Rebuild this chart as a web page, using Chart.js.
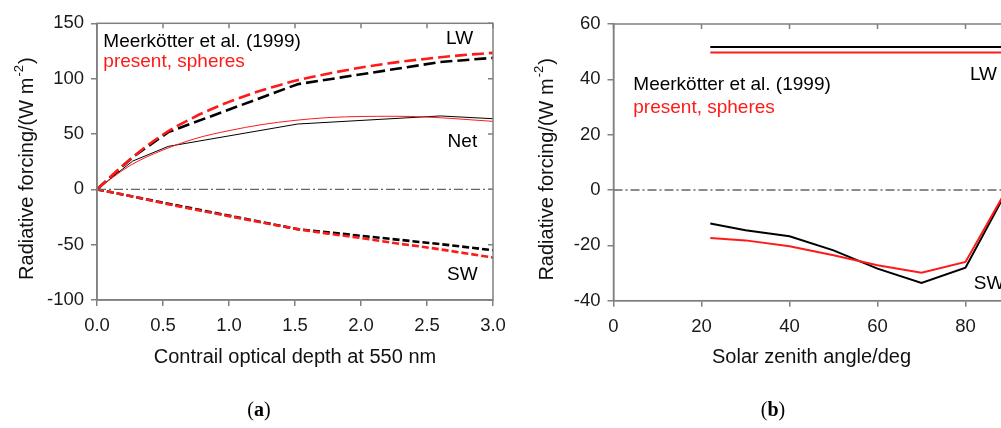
<!DOCTYPE html>
<html>
<head>
<meta charset="utf-8">
<script src="https://cdn.jsdelivr.net/npm/chart.js@4.4.1/dist/chart.umd.min.js"></script>
<style>
  html, body { margin: 0; padding: 0; background: #fff; overflow: hidden; }
  #wrap { position: relative; width: 1001px; height: 428px; overflow: hidden; }
  canvas { position: absolute; top: 0; }
  #chartA { left: 0; }
  #chartB { left: 520px; }
</style>
</head>
<body>
<div id="wrap">
  <canvas id="chartA" width="520" height="428"></canvas>
  <canvas id="chartB" width="520" height="428"></canvas>
</div>
<script>
// Panel (a): forcing vs contrail optical depth
const tauMeer = [0, 0.27, 0.54, 1.52, 2.6, 3.0];
const lwMeer = [0, 29, 51.7, 95, 115, 118.8];
const netMeer = [0, 25.5, 38.8, 59, 66.3, 63.8];
const swMeer = [0, -6.5, -13, -36, -49.5, -55];

const tauPres = [0, 0.25, 0.5, 0.75, 1.0, 1.25, 1.5, 1.75, 2.0, 2.25, 2.5, 2.75, 3.0];
const lwPres = [0, 27, 49.5, 66, 79, 89.5, 98, 104.5, 110, 114.5, 118, 121, 123.3];
const netPres = [0, 21.5, 35.5, 46, 53, 58.5, 62.3, 64.8, 65.8, 66, 65.3, 63.5, 61.4];
const swPres = [0, -6, -12.5, -18.5, -24.2, -30, -35.5, -40, -44, -48.5, -52.5, -57, -61.6];

const tauRange = [0, 3];
const forcingRangeA = [-100, 150];

// Panel (b): forcing vs solar zenith angle
const sza = [22, 30, 40, 50, 60, 70, 80, 90];
const lwMeerB = [51.7, 51.7, 51.7, 51.7, 51.7, 51.7, 51.7, 51.7];
const lwPresB = [49.7, 49.7, 49.7, 49.7, 49.7, 49.7, 49.7, 49.7];
const swMeerB = [-12.1, -14.5, -16.7, -21.8, -28.4, -33.6, -28.1, 1.5];
const swPresB = [-17.3, -18.2, -20.3, -23.6, -27.2, -29.9, -26.0, 2];

const szaRange = [0, 90];
const forcingRangeB = [-40, 60];

const RED = "#ff1a1a";
const GRAY = "#808080";
const FONT = '"Liberation Sans", Arial, Helvetica, sans-serif';

const pts = (xs, ys) => xs.map((x, i) => ({ x: x, y: ys[i] }));

function line(data, color, width, dash, smooth) {
    return {
        data: data,
        borderColor: color,
        borderWidth: width,
        borderDash: dash || [],
        pointRadius: 0,
        fill: false,
        tension: 0,
        cubicInterpolationMode: smooth ? "monotone" : "default",
    };
}

function zeroLine(range) {
    return line(range.map((x) => ({ x: x, y: 0 })), "#666", 1.3, [9, 3, 2, 3]);
}

// frame, inward ticks on top/right, y title with superscript, text labels
function decorPlugin(labels, panelTag, yTitleX) {
    return {
        id: "decor",
        afterDraw(chart) {
            const { ctx, chartArea: a, scales } = chart;
            const x = scales.x, y = scales.y;
            ctx.save();
            ctx.strokeStyle = GRAY;
            ctx.lineWidth = 1.5;
            ctx.strokeRect(a.left, a.top, a.right - a.left, a.bottom - a.top);
            ctx.beginPath();
            x.ticks.forEach((t) => {
                const px = x.getPixelForValue(t.value);
                ctx.moveTo(px, a.top);
                ctx.lineTo(px, a.top + 5);
            });
            y.ticks.forEach((t) => {
                const py = y.getPixelForValue(t.value);
                ctx.moveTo(a.right, py);
                ctx.lineTo(a.right - 5, py);
            });
            ctx.stroke();

            // y axis title
            const big = "20px " + FONT, small = "13px " + FONT;
            const main = "Radiative forcing/(W m", sup = "-2", end = ")";
            ctx.translate(yTitleX, (a.top + a.bottom) / 2 + 7);
            ctx.rotate(-Math.PI / 2);
            ctx.fillStyle = "#111";
            ctx.textBaseline = "alphabetic";
            ctx.textAlign = "left";
            ctx.font = big;
            const w1 = ctx.measureText(main).width, w3 = ctx.measureText(end).width;
            ctx.font = small;
            const w2 = ctx.measureText(sup).width;
            const x0 = -(w1 + w2 + w3 + 2) / 2;
            ctx.font = big;
            ctx.fillText(main, x0, 0);
            ctx.font = small;
            ctx.fillText(sup, x0 + w1 + 1, -10);
            ctx.font = big;
            ctx.fillText(end, x0 + w1 + w2 + 2, 0);
            ctx.restore();

            ctx.save();
            ctx.font = "19px " + FONT;
            ctx.textAlign = "left";
            ctx.textBaseline = "alphabetic";
            labels.forEach((l) => {
                ctx.fillStyle = l.color;
                ctx.fillText(l.text, x.getPixelForValue(l.x), y.getPixelForValue(l.y));
            });

            // panel tag "(a)" / "(b)"
            const serif = '"Liberation Serif", "DejaVu Serif", serif';
            ctx.fillStyle = "#000";
            ctx.textBaseline = "middle";
            const reg = "20px " + serif, bold = "bold 20px " + serif;
            ctx.font = reg;
            const pw = ctx.measureText("(").width;
            ctx.font = bold;
            const lw = ctx.measureText(panelTag.letter).width;
            let tx = panelTag.cx - (pw * 2 + lw) / 2;
            ctx.font = reg;
            ctx.fillText("(", tx, panelTag.cy);
            ctx.font = bold;
            ctx.fillText(panelTag.letter, tx + pw, panelTag.cy);
            ctx.font = reg;
            ctx.fillText(")", tx + pw + lw, panelTag.cy);
            ctx.restore();
        },
    };
}

function axisOpts(range, step, fitSize, isX, title, fmt) {
    const o = {
        type: "linear",
        min: range[0],
        max: range[1],
        border: { display: true, color: GRAY, width: 1.5 },
        grid: { drawOnChartArea: false, drawTicks: true, tickLength: 6, color: GRAY, lineWidth: 1.5 },
        ticks: {
            stepSize: step,
            includeBounds: false,
            color: "#1a1a1a",
            font: { family: FONT, size: 18.5 },
            padding: isX ? 9 : 7,
            maxRotation: 0,
            callback: fmt,
        },
        afterFit: isX ? (s) => { s.height = fitSize; } : (s) => { s.width = fitSize; },
    };
    if (title) {
        o.title = {
            display: true,
            text: title,
            color: "#111",
            font: { family: FONT, size: 20 },
            padding: { top: 0, bottom: 59 },
        };
    }
    return o;
}

const labelsA = [
    { text: "Meerkötter et al. (1999)", color: "#000", x: 0.048, y: 128.2 },
    { text: "present, spheres", color: RED, x: 0.048, y: 110.1 },
    { text: "LW", color: "#000", x: 2.644, y: 131.5 },
    { text: "Net", color: "#000", x: 2.656, y: 38.2 },
    { text: "SW", color: "#000", x: 2.652, y: -82.1 },
];

const labelsB = [
    { text: "Meerkötter et al. (1999)", color: "#000", x: 4.5, y: 36.0 },
    { text: "present, spheres", color: RED, x: 4.5, y: 27.8 },
    { text: "LW", color: "#000", x: 81.0, y: 39.9 },
    { text: "SW", color: "#000", x: 81.9, y: -35.6 },
];

new Chart(document.getElementById("chartA"), {
    type: "line",
    data: {
        datasets: [
            zeroLine(tauRange),
            line(pts(tauPres, lwPres), RED, 2.6, [12, 5], true),
            line(pts(tauPres, swPres), RED, 2.6, [7, 3], true),
            line(pts(tauPres, netPres), RED, 1, [], true),
            line(pts(tauMeer, lwMeer), "#000", 2.6, [12, 5]),
            line(pts(tauMeer, swMeer), "#000", 2.6, [7, 3]),
            line(pts(tauMeer, netMeer), "#000", 1),
        ],
    },
    options: {
        responsive: false,
        animation: false,
        devicePixelRatio: 1,
        layout: { padding: { top: 23.3, right: 27, bottom: 0, left: 0 } },
        plugins: { legend: { display: false }, tooltip: { enabled: false } },
        scales: {
            x: axisOpts(tauRange, 0.5, 128, true, "Contrail optical depth at 550 nm", (v) => v.toFixed(1)),
            y: axisOpts(forcingRangeA, 50, 97, false, null, (v) => v),
        },
    },
    plugins: [decorPlugin(labelsA, { letter: "a", cx: 259, cy: 411 }, 33)],
});

new Chart(document.getElementById("chartB"), {
    type: "line",
    data: {
        datasets: [
            zeroLine(szaRange),
            line(pts(sza, lwMeerB), "#000", 2),
            line(pts(sza, lwPresB), RED, 2),
            line(pts(sza, swPresB), RED, 2),
            line(pts(sza, swMeerB), "#000", 2),
        ],
    },
    options: {
        responsive: false,
        animation: false,
        devicePixelRatio: 1,
        layout: { padding: { top: 24, right: 30.5, bottom: 0, left: 0 } },
        plugins: { legend: { display: false }, tooltip: { enabled: false } },
        scales: {
            x: axisOpts(szaRange, 20, 127.3, true, "Solar zenith angle/deg", (v) => v),
            y: axisOpts(forcingRangeB, 20, 93.5, false, null, (v) => v),
        },
    },
    plugins: [decorPlugin(labelsB, { letter: "b", cx: 253, cy: 411 }, 33)],
});
</script>
</body>
</html>
